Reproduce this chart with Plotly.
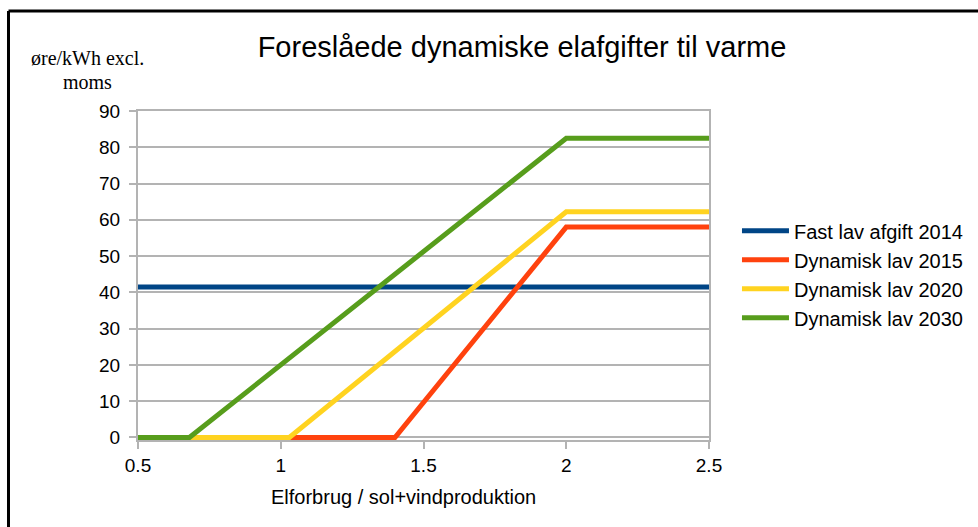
import plotly.graph_objects as go

# Series data: ratio of consumption to solar+wind production vs. tax (øre/kWh)
fixed_2014_x = [0.5, 2.5]
fixed_2014_y = [41.5, 41.5]

dyn_2015_x = [0.5, 1.4, 2.0, 2.5]
dyn_2015_y = [0, 0, 58, 58]

dyn_2020_x = [0.5, 1.03, 2.0, 2.5]
dyn_2020_y = [0, 0, 62.2, 62.2]

dyn_2030_x = [0.5, 0.68, 2.0, 2.5]
dyn_2030_y = [0, 0, 82.5, 82.5]

series_names = ["Fast lav afgift 2014", "Dynamisk lav 2015", "Dynamisk lav 2020", "Dynamisk lav 2030"]
series_colors = ["#004586", "#ff420e", "#ffd320", "#579d1c"]

x_ticks = [0.5, 1, 1.5, 2, 2.5]
x_tick_labels = ["0.5", "1", "1.5", "2", "2.5"]
y_ticks = [0, 10, 20, 30, 40, 50, 60, 70, 80, 90]

SANS = "Liberation Sans, Arial, sans-serif"
SERIF = "Liberation Serif, Times New Roman, serif"
GRID = "#b3b3b3"

fig = go.Figure()
for i, (xs, ys) in enumerate([(fixed_2014_x, fixed_2014_y), (dyn_2015_x, dyn_2015_y),
                              (dyn_2020_x, dyn_2020_y), (dyn_2030_x, dyn_2030_y)]):
    fig.add_trace(go.Scatter(
        x=xs, y=ys, mode="lines", name=series_names[i],
        legendgroup=f"g{i}",
        line=dict(color=series_colors[i], width=5),
    ))

fig.update_layout(
    width=978, height=527,
    margin=dict(l=138, r=269, t=111, b=87, autoexpand=False),
    paper_bgcolor="white", plot_bgcolor="white",
    font=dict(family=SANS, color="black"),
    title=dict(
        text="Foreslåede dynamiske elafgifter til varme",
        font=dict(family=SANS, size=29, color="black"),
        xref="paper", x=0.6725, xanchor="center",
        yref="container", y=1 - 47 / 527, yanchor="middle",
    ),
    xaxis=dict(
        range=[0.5, 2.5], tickvals=x_ticks, ticktext=x_tick_labels,
        showgrid=False, zeroline=False,
        showline=True, linecolor=GRID, linewidth=2, mirror=True,
        ticks="outside", ticklen=7, tickcolor=GRID, tickwidth=2,
        tickfont=dict(family=SANS, size=19, color="black"),
    ),
    yaxis=dict(
        range=[-0.7, 90], tickvals=y_ticks,
        showgrid=True, gridcolor=GRID, gridwidth=1.5, zeroline=False,
        showline=True, linecolor=GRID, linewidth=2, mirror=True,
        ticks="outside", ticklen=7, tickcolor=GRID, tickwidth=2,
        tickfont=dict(family=SANS, size=19, color="black"),
        ticklabelstandoff=5,
    ),
    legend=dict(
        x=1.049, xanchor="left", y=0.695, yanchor="top",
        font=dict(family=SANS, size=20, color="black"),
        tracegroupgap=0, itemwidth=47, bgcolor="rgba(0,0,0,0)",
    ),
    showlegend=True,
)

# Axis titles
fig.add_annotation(text="øre/kWh excl.", xref="paper", yref="paper",
                   x=-0.0893, y=1.1606, xanchor="center", yanchor="middle",
                   showarrow=False, font=dict(family=SERIF, size=20, color="black"))
fig.add_annotation(text="moms", xref="paper", yref="paper",
                   x=-0.0893, y=1.0887, xanchor="center", yanchor="middle",
                   showarrow=False, font=dict(family=SERIF, size=20, color="black"))
fig.add_annotation(text="Elforbrug / sol+vindproduktion", xref="paper", yref="paper",
                   x=0.4658, y=-0.1743, xanchor="center", yanchor="middle",
                   showarrow=False, font=dict(family=SANS, size=20, color="black"))

# Frame along the top and left edges
fig.add_shape(type="line", xref="paper", yref="paper",
              x0=-0.2268, x1=-0.2268, y0=-0.35, y1=1.3043,
              line=dict(color="black", width=3))
fig.add_shape(type="line", xref="paper", yref="paper",
              x0=-0.2268, x1=1.5, y0=1.3043, y1=1.3043,
              line=dict(color="black", width=3))

fig.write_html("out.html")
